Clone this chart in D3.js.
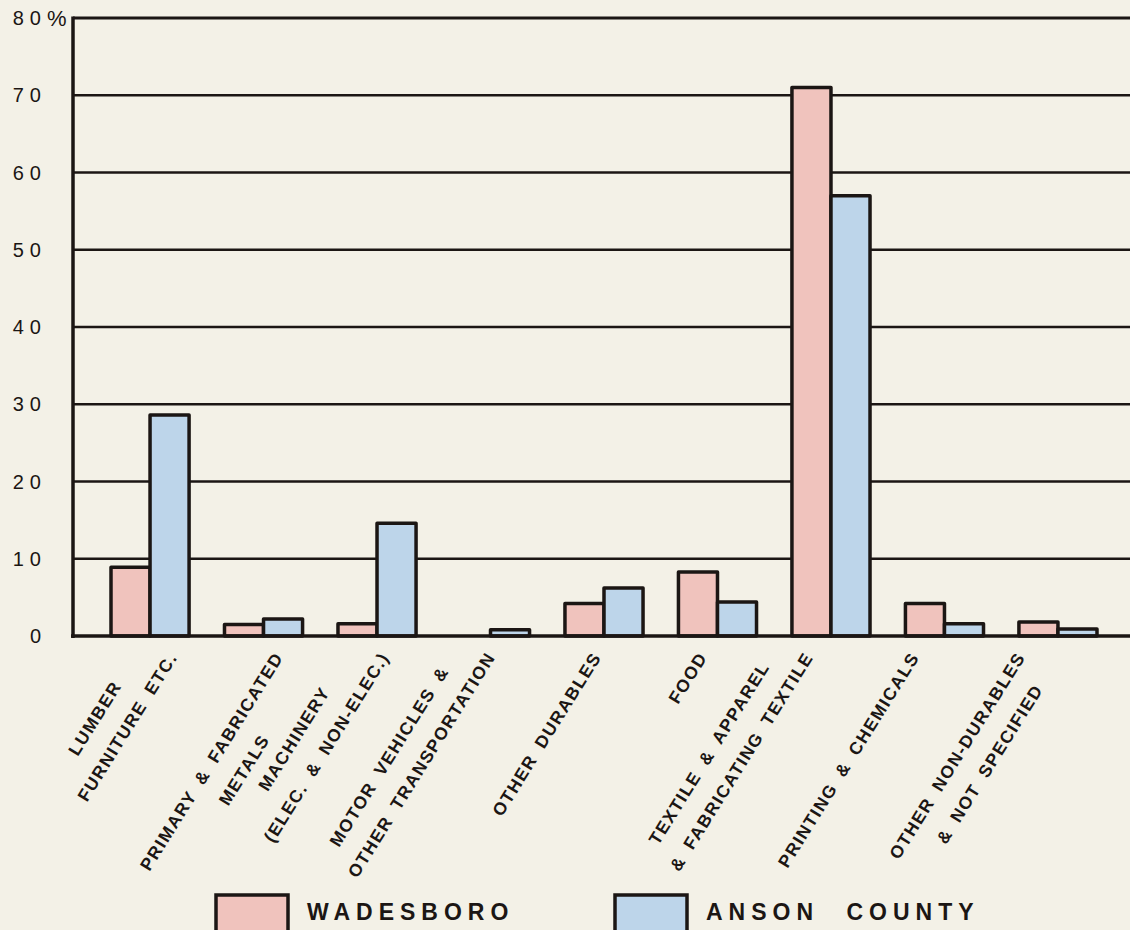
<!DOCTYPE html>
<html>
<head>
<meta charset="utf-8">
<title>Wadesboro and Anson County: manufacturing employment</title>
<style>
  body { margin: 0; background: #f3f1e7; }
  svg { display: block; }
  text { fill: #1b1614; font-family: "Liberation Sans", Arial, sans-serif; }
</style>
</head>
<body>
<svg id="chart"></svg>
<script src="https://cdn.jsdelivr.net/npm/d3@7"></script>
<script>
// category labels, one entry per bar pair (each inner array = lines of lettering)
var categories = [
  ["LUMBER", "FURNITURE ETC."],
  ["PRIMARY & FABRICATED", "METALS"],
  ["MACHINERY", "(ELEC. & NON-ELEC.)"],
  ["MOTOR VEHICLES &", "OTHER TRANSPORTATION"],
  ["OTHER DURABLES"],
  ["FOOD"],
  ["TEXTILE & APPAREL", "& FABRICATING TEXTILE"],
  ["PRINTING & CHEMICALS"],
  ["OTHER NON-DURABLES", "& NOT SPECIFIED"]
];
var seriesNames = ["WADESBORO", "ANSON COUNTY"];
var wadesboro = [8.9, 1.5, 1.6, 0, 4.2, 8.3, 71.0, 4.2, 1.8];
var ansonCounty = [28.6, 2.2, 14.6, 0.8, 6.2, 4.4, 57.0, 1.6, 0.9];
var yTicks = [0, 10, 20, 30, 40, 50, 60, 70, 80];

var width = 1130, height = 930;
var ink = "#1b1614";
var colors = ["#f0c3bd", "#bdd5ea"];

var svg = d3.select("#chart")
  .attr("width", width)
  .attr("height", height);

var keys = categories.map(function(c, i) { return "c" + i; });

var x = d3.scaleBand()
  .domain(keys)
  .range([111, 1097])
  .paddingInner(0.312)
  .paddingOuter(0);

var xSeries = d3.scaleBand()
  .domain([0, 1])
  .range([0, x.bandwidth()])
  .padding(0);

// the hand lettering under the bars is spaced a little tighter than the bars
var xLabel = d3.scalePoint()
  .domain(keys)
  .range([178, 1026]);

var y = d3.scaleLinear()
  .domain([0, 80])
  .range([636, 18]);

// horizontal rules (drawn first so bars cover them)
svg.append("g")
  .selectAll("line")
  .data(yTicks.filter(function(t) { return t > 0; }))
  .enter().append("line")
    .attr("x1", 73)
    .attr("x2", width)
    .attr("y1", function(d) { return y(d); })
    .attr("y2", function(d) { return y(d); })
    .attr("stroke", ink)
    .attr("stroke-width", function(d) { return d === 80 ? 3 : 2.4; });

// y tick labels
svg.append("g").selectAll("text")
  .data(yTicks)
  .enter().append("text")
    .attr("x", 47)
    .attr("y", function(d) { return y(d); })
    .attr("dy", "0.36em")
    .attr("text-anchor", "end")
    .style("font-size", "20px")
    .style("letter-spacing", "6px")
    .text(function(d) { return d; });

svg.append("text")
  .attr("x", 47)
  .attr("y", y(80))
  .attr("dy", "0.38em")
  .style("font-size", "22px")
  .text("%");

// bars
var rows = categories.map(function(c, i) {
  return { key: keys[i], vals: [wadesboro[i], ansonCounty[i]] };
});

var groups = svg.append("g")
  .selectAll("g")
  .data(rows)
  .enter().append("g")
    .attr("transform", function(d) { return "translate(" + x(d.key) + ",0)"; });

groups.selectAll("rect")
  .data(function(d) {
    return d.vals.map(function(v, s) { return { s: s, v: v }; }).filter(function(b) { return b.v > 0; });
  })
  .enter().append("rect")
    .attr("x", function(b) { return xSeries(b.s); })
    .attr("width", xSeries.bandwidth())
    .attr("y", function(b) { return y(b.v); })
    .attr("height", function(b) { return y(0) - y(b.v); })
    .attr("fill", function(b) { return colors[b.s]; })
    .attr("stroke", ink)
    .attr("stroke-width", 3.5)
    .attr("stroke-linejoin", "round");

// axes lines
svg.append("line")
  .attr("x1", 73).attr("x2", 73)
  .attr("y1", y(80) - 1.5).attr("y2", y(0) + 2)
  .attr("stroke", ink).attr("stroke-width", 3.5);

svg.append("line")
  .attr("x1", 71).attr("x2", width)
  .attr("y1", y(0)).attr("y2", y(0))
  .attr("stroke", ink).attr("stroke-width", 3.5);

// rotated category labels; the second line sits a bit further along the slant
var lineGap = 32, lineShift = 10, angle = -58;
var labels = svg.append("g")
  .selectAll("g")
  .data(categories)
  .enter().append("g")
    .attr("transform", function(d, i) {
      return "translate(" + xLabel(keys[i]) + "," + 657 + ") rotate(" + angle + ")";
    });

labels.each(function(lines) {
  var g = d3.select(this);
  var t = g.selectAll("text")
    .data(lines)
    .enter().append("text")
      .attr("text-anchor", "middle")
      .style("font-size", "17.5px")
      .style("font-weight", "bold")
      .style("letter-spacing", "1.5px")
      .style("word-spacing", "5px")
      .text(function(s) { return s; });
  var widths = [];
  t.each(function() { widths.push(this.getComputedTextLength()); });
  var k = widths.indexOf(d3.max(widths));
  var maxW = widths[k];
  t.attr("x", function(s, i) { return -maxW / 2 + (i - k) * lineShift; })
   .attr("y", function(s, i) { return (i - k) * lineGap; });
});

// legend
var legend = svg.append("g")
  .selectAll("g")
  .data(seriesNames)
  .enter().append("g")
    .attr("transform", function(d, i) { return "translate(" + (216 + i * 399) + ",895)"; });

legend.append("rect")
  .attr("width", 72)
  .attr("height", 42)
  .attr("fill", function(d, i) { return colors[i]; })
  .attr("stroke", ink)
  .attr("stroke-width", 3.5);

legend.append("text")
  .attr("x", 91)
  .attr("y", 25)
  .style("font-size", "23px")
  .style("font-weight", "bold")
  .style("letter-spacing", "6px")
  .style("word-spacing", "15px")
  .text(function(d) { return d; });
</script>
</body>
</html>
